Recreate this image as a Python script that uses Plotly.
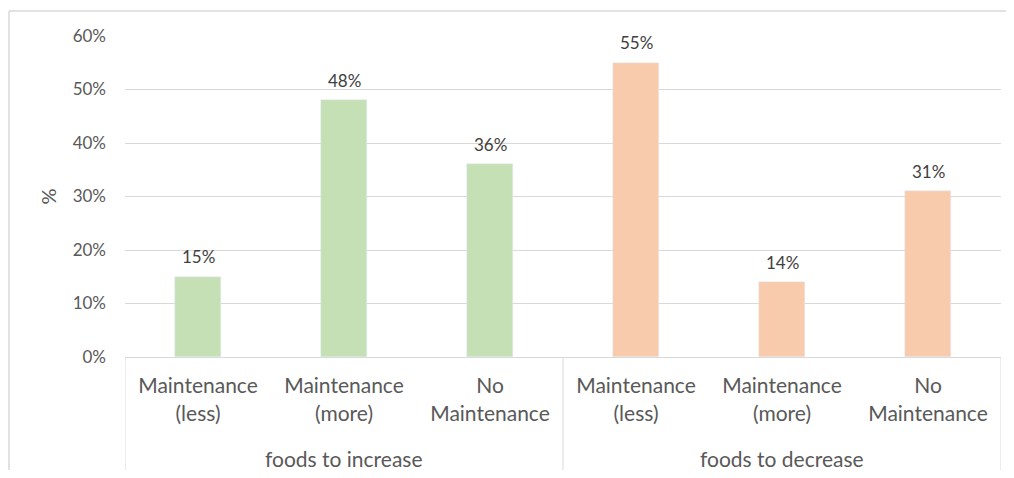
import plotly.graph_objects as go

groups = ["foods to increase", "foods to decrease"]
categories = ["Maintenance<br>(less)", "Maintenance<br>(more)", "No<br>Maintenance"]
increase_vals = [0.15, 0.48, 0.36]
decrease_vals = [0.55, 0.14, 0.31]
y_ticks = [0, 0.1, 0.2, 0.3, 0.4, 0.5, 0.6]
y_tick_labels = ["0%", "10%", "20%", "30%", "40%", "50%", "60%"]

green = "#c5e0b4"
orange = "#f8cbad"
grid = "#d9d9d9"
txt = "#595959"
FONT = "Lato, Calibri, Carlito, sans-serif"

x_inc = [0, 1, 2]
x_dec = [3, 4, 5]

fig = go.Figure()
fig.add_trace(go.Bar(x=x_inc, y=increase_vals, marker_color=green, width=0.315, showlegend=False))
fig.add_trace(go.Bar(x=x_dec, y=decrease_vals, marker_color=orange, width=0.315, showlegend=False))

# data labels
for xs, vals in [(x_inc, increase_vals), (x_dec, decrease_vals)]:
    for xv, v in zip(xs, vals):
        fig.add_annotation(x=xv, y=v, xref="x", yref="y", text=f"{round(v*100)}%",
                           showarrow=False, yanchor="middle", yshift=20,
                           font=dict(size=17, color="#404040", family=FONT))

fig.update_layout(
    width=998, height=462,
    margin=dict(l=117, r=5, t=28, b=113),
    paper_bgcolor="white", plot_bgcolor="white",
    font=dict(family=FONT, color=txt),
    bargap=0,
    xaxis=dict(range=[-0.5, 5.5], tickvals=x_inc + x_dec, ticktext=categories * 2,
               tickfont=dict(size=21, color=txt), showgrid=False, zeroline=False,
               showline=True, linecolor=grid, linewidth=1, ticks="", ticklabelstandoff=10),
    yaxis=dict(range=[0, 0.6], tickvals=y_ticks, ticktext=y_tick_labels,
               tickfont=dict(size=17, color=txt), showgrid=True, gridcolor=grid, gridwidth=1,
               zeroline=False, showline=False, ticks="", ticklabelstandoff=18,
               title=dict(text="%", font=dict(size=20, color=txt), standoff=10)),
)

# group labels
for i, g in enumerate(groups):
    fig.add_annotation(x=1 + 3 * i, y=-0.315, xref="x", yref="paper", text=g,
                       showarrow=False, font=dict(size=21, color=txt, family=FONT),
                       yanchor="middle")

# group divider lines
for xv in [-0.5, 2.5, 5.5]:
    fig.add_shape(type="line", xref="x", yref="paper", x0=xv, x1=xv, y0=0, y1=-0.352,
                  line=dict(color=grid, width=1))

# chart border (top and left edges)
fig.add_shape(type="line", xref="paper", yref="paper", x0=-116/876, x1=1.02, y0=346/321, y1=346/321,
              line=dict(color=grid, width=1.5))
fig.add_shape(type="line", xref="paper", yref="paper", x0=-116/876, x1=-116/876, y0=346/321, y1=-0.4,
              line=dict(color=grid, width=1.5))

fig.write_html("out.html")
